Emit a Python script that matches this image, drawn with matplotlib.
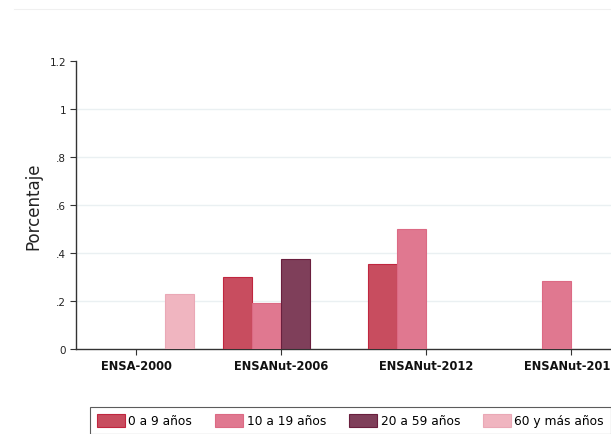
import matplotlib
matplotlib.use("Agg")
import matplotlib.pyplot as plt
import numpy as np

surveys = ["ENSA-2000", "ENSANut-2006", "ENSANut-2012", "ENSANut-2018"]
groups = ["0 a 9 años", "10 a 19 años", "20 a 59 años", "60 y más años"]
# values per group across surveys (nan = no bar)
v_0_9 = [np.nan, 0.299, 0.356, np.nan]
v_10_19 = [np.nan, 0.193, 0.501, 0.283]
v_20_59 = [np.nan, 0.374, np.nan, np.nan]
v_60 = [0.229, np.nan, np.nan, np.nan]
values = [v_0_9, v_10_19, v_20_59, v_60]
yticks = [0, 0.2, 0.4, 0.6, 0.8, 1.0, 1.2]
yticklabels = ["0", ".2", ".4", ".6", ".8", "1", "1.2"]

fills = ["#c84d5f", "#e07890", "#7f3f5a", "#f0b5c0"]
edges = ["#c0263f", "#dc6a84", "#6a1f3e", "#eaa8b6"]

plt.rcParams['font.family'] = ['DejaVu Sans']
fig = plt.figure(figsize=(6.11, 4.35), dpi=100)
fig.patch.set_facecolor("white")
ax = fig.add_axes([76/611, 1-350/435, (631-76)/611, (350-62)/435])

x = np.arange(len(surveys))
w = 0.2
offsets = [-1.5*w, -0.5*w, 0.5*w, 1.5*w]
handles = []
for i, g in enumerate(groups):
    b = ax.bar(x + offsets[i], values[i], width=w, color=fills[i],
               edgecolor=edges[i], linewidth=0.8, label=g, zorder=3)
    handles.append(b)

ax.set_xlim(-0.414, 3.414)
ax.set_ylim(0, 1.2)
ax.set_yticks(yticks)
ax.set_yticklabels(yticklabels, fontsize=7.5, color="#222222")
ax.set_xticks(x)
ax.set_xticklabels(surveys, fontsize=8.3, fontweight="bold", color="#111111")
for yv in yticks[1:-1]:
    ax.axhline(yv, color="#eaf0f2", linewidth=1.0, zorder=1)
for s in ["top", "right"]:
    ax.spines[s].set_visible(False)
for s in ["left", "bottom"]:
    ax.spines[s].set_color("#333333")
    ax.spines[s].set_linewidth(1.0)
ax.tick_params(axis="both", length=4, width=0.8, color="#333333", pad=3)
ax.set_ylabel("Porcentaje", fontsize=12, color="#222222", labelpad=5)

# faint top rule
fig.add_artist(plt.Line2D([14/611, 1], [1-10/435, 1-10/435], color="#f0f0f0", linewidth=0.8))

leg = fig.legend(handles=handles, labels=groups, loc="upper left",
                 bbox_to_anchor=(90/611, 1-408/435), ncol=4, fontsize=8.8,
                 frameon=True, fancybox=False, edgecolor="#333333",
                 handlelength=2.3, handleheight=1.3, handletextpad=0.3,
                 columnspacing=1.85, borderpad=0.55, borderaxespad=0)
leg.get_frame().set_linewidth(0.8)

fig.savefig("out.png", dpi=100)
